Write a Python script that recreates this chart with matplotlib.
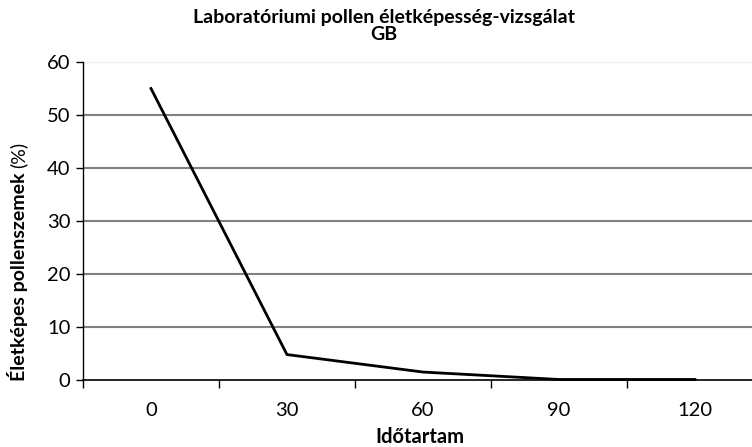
import matplotlib
matplotlib.use("Agg")
import matplotlib.pyplot as plt
import numpy as np

categories = ["0", "30", "60", "90", "120"]
values = [55.0, 4.8, 1.5, 0.1, 0.1]
yticks = [0, 10, 20, 30, 40, 50, 60]

plt.rcParams['font.family'] = ['Lato', 'DejaVu Sans']

fig = plt.figure(figsize=(7.52, 4.47), dpi=100)
ax = fig.add_axes([83/752, 67/447, 669/752, 318/447])

x = np.arange(len(categories))
for t in yticks[1:-1]:
    ax.axhline(t, color="#808080", lw=1.5, zorder=1)
ax.axhline(60, color="#eeeeee", lw=1.0, zorder=1)
ax.plot(x, values, color="black", lw=2, zorder=3, clip_on=False)

ax.set_ylim(0, 60)
ax.set_xlim(-0.5, 4.42)
ax.set_yticks(yticks)
ax.set_yticklabels([str(t) for t in yticks], fontsize=14.5)
ax.set_xticks(x)
ax.set_xticklabels(categories, fontsize=14.5)
ax.set_xticks(np.arange(-0.5, 4.5, 1), minor=True)
ax.tick_params(axis="x", which="major", length=0, pad=16)
ax.tick_params(axis="x", which="minor", length=6, width=1, direction="out", color="black")
ax.tick_params(axis="y", length=5, width=1, direction="out", pad=4)

for s in ["top", "right"]:
    ax.spines[s].set_visible(False)
ax.spines["left"].set_linewidth(1)
ax.spines["bottom"].set_linewidth(1.2)
ax.spines["bottom"].set_zorder(2)

fig.text(384/752, 1 - 17/447, "Laboratóriumi pollen életképesség-vizsgálat", ha="center", va="center",
         fontsize=14, fontweight="bold")
fig.text(384/752, 1 - 35/447, "GB", ha="center", va="center", fontsize=14, fontweight="bold")

t1 = fig.text(18/752, 1 - 381/447, "Életképes pollenszemek", rotation=90, ha="center", va="bottom",
              fontsize=14, fontweight="bold")
fig.canvas.draw()
bb = t1.get_window_extent(renderer=fig.canvas.get_renderer())
fig.text(18/752, (bb.y1 + 5) / 447, "(%)", rotation=90, ha="center", va="bottom", fontsize=14)
fig.text(420/752, 1 - 437/447, "Időtartam", ha="center", va="center", fontsize=14.5, fontweight="bold")

fig.savefig("out.png", dpi=100)
